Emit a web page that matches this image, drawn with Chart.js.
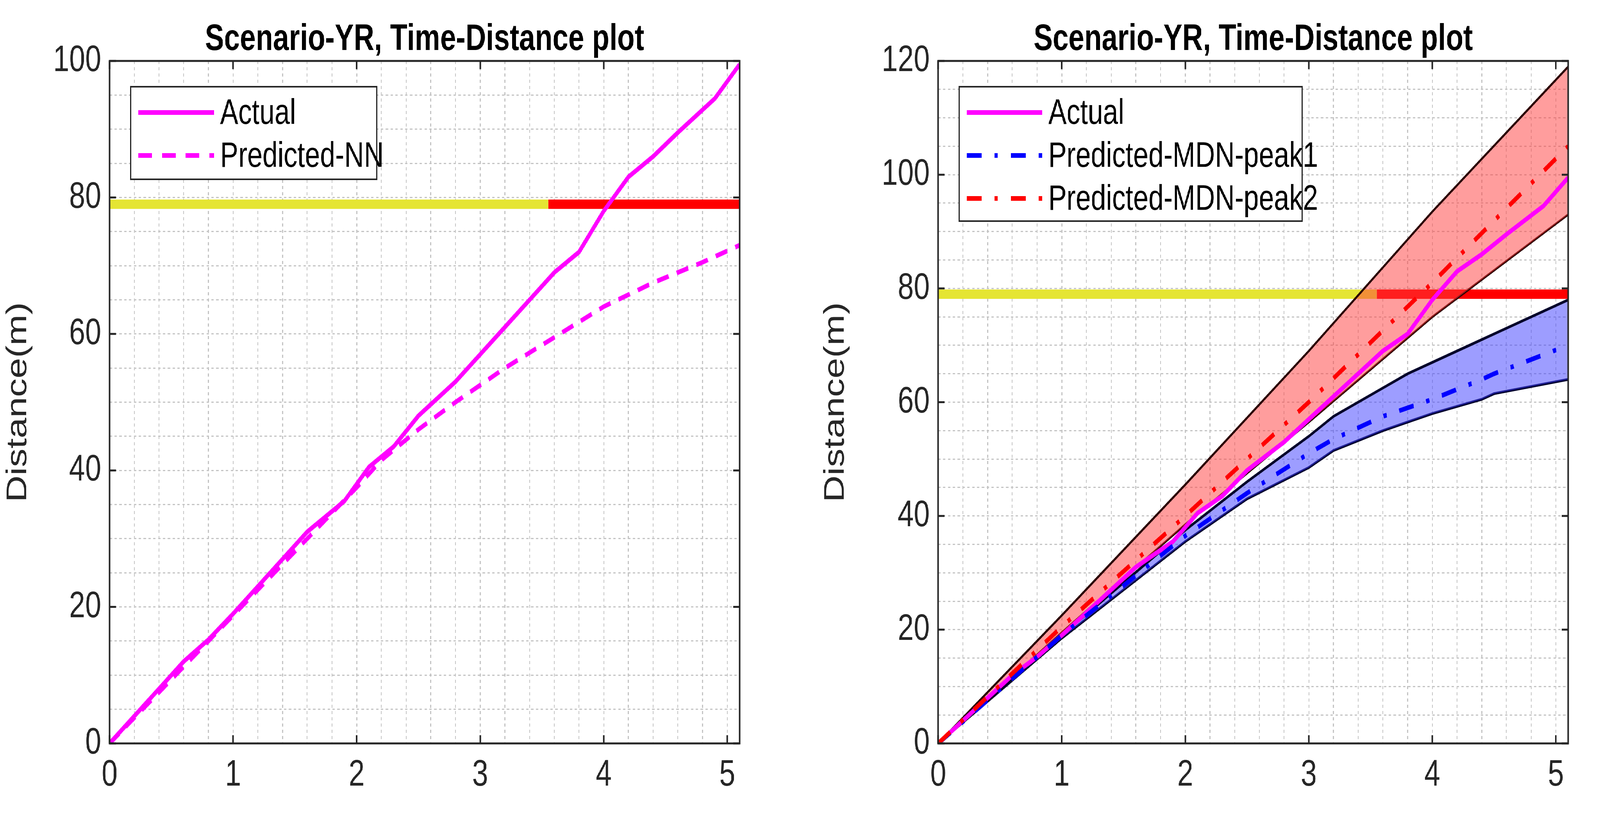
<!DOCTYPE html>
<html>
<head>
<meta charset="utf-8">
<script src="https://cdn.jsdelivr.net/npm/chart.js@4.4.0/dist/chart.umd.min.js"></script>
<style>
	html, body { margin: 0; padding: 0; background: #fff; overflow: hidden; }
	#page { width: 5285px; height: 2140px; position: absolute; left: 0; top: 0; transform-origin: 0 0; }
	.box { position: absolute; top: 0; height: 2140px; }
	canvas { display: block; }
</style>
</head>
<body>
<div id="page">
<div class="box" style="left:0;width:2600px"><canvas id="graphique-gauche"></canvas></div>
<div class="box" style="left:2700px;width:2585px"><canvas id="graphique-droite"></canvas></div>
</div>
<script>
const titre = "Scenario-YR, Time-Distance plot";

// Actual trajectory
const tempsActual = [0, 0.2, 0.4, 0.6, 0.8, 1, 1.2, 1.4, 1.6, 1.9, 2.1, 2.3, 2.5, 2.8, 3.0, 3.2, 3.4, 3.6, 3.8, 4.0, 4.2, 4.4, 4.6, 4.9, 5.1];
const distActual = [0, 4, 8, 12, 15.2, 19, 23, 27, 31, 35.5, 40.5, 43.5, 48, 53, 57, 61, 65, 69, 72, 78, 83, 86, 89.5, 94.5, 99.5];

// Predicted-NN
const tempsNN = [0, 0.4, 0.8, 1.2, 1.6, 2.0, 2.2, 2.5, 2.8, 3.2, 3.6, 4.0, 4.4, 4.8, 5.1];
const distNN = [0, 7.5, 15, 22.5, 30, 37.5, 41.5, 46, 50, 55, 59.5, 64, 67.5, 70.5, 73];

// MDN peak2 (red) with band
const tempsPeak2 = [0, 1, 2, 3, 4, 5.1];
const distPeak2 = [0, 20.5, 40, 60, 81, 105];
const peak2Haut = [0, 22.5, 45.5, 69, 93.5, 119];
const peak2Bas = [0, 19.5, 38.5, 56.5, 75, 93];

// MDN peak1 (blue) with band
const tempsPeak1 = [0, 1, 2, 2.5, 3, 3.2, 3.6, 3.8, 4, 4.4, 4.5, 5.1];
const distPeak1 = [0, 19, 36.5, 44, 51, 53.5, 57.5, 59, 60.5, 64, 65, 70];
const peak1Haut = [0, 19, 37.5, 46, 54, 57.5, 62.5, 65, 67, 71, 72, 78];
const peak1Bas = [0, 18.5, 35.5, 43, 48.5, 51.5, 55, 56.5, 58, 60.5, 61.5, 64];

// Distance bar (conflict zone)
const barreDistance = 79;
const barreJaune = [0, 3.55];
const barreRouge = [3.55, 5.1];

const ticksX = [0, 0.2, 0.4, 0.6, 0.8, 1, 1.2, 1.4, 1.6, 1.8, 2, 2.2, 2.4, 2.6, 2.8, 3, 3.2, 3.4, 3.6, 3.8, 4, 4.2, 4.4, 4.6, 4.8, 5];

const magenta = "#ff00ff";
const gris = "#262626";
const police = "'Liberation Sans', Arial, sans-serif";
const tiretPoint = [49, 43, 11, 43];

// viewport may be narrower than 5285: stretch the page to fill it
const kx = Math.min(window.innerWidth / 5285, 1);
const ky = Math.min(window.innerHeight / 2140, 1);
document.querySelector("#page").style.transform = "scale(" + kx + "," + ky + ")";

function points(xs, ys) {
	return xs.map((x, i) => ({x: x, y: ys[i]}));
}

function ligne(label, xs, ys, couleur, largeur, tirets, ordre, extra) {
	return Object.assign({
		label: label, data: points(xs, ys), borderColor: couleur, borderWidth: largeur,
		borderDash: tirets, pointRadius: 0, tension: 0, fill: false, order: ordre,
	}, extra || {});
}

function barres() {
	return [
		ligne("jaune", barreJaune, [barreDistance, barreDistance], "#e5e533", 24, [], 20, {borderCapStyle: "butt"}),
		ligne("rouge", barreRouge, [barreDistance, barreDistance], "#ff0000", 24, [], 20, {borderCapStyle: "butt"}),
	];
}

function cadrePlugin(legende, legendeBox) {
	return {
		id: "cadre",
		afterDraw(chart) {
			const ctx = chart.ctx;
			const a = chart.chartArea;
			const sx = chart.scales.x, sy = chart.scales.y;
			ctx.save();
			ctx.strokeStyle = gris;
			ctx.lineWidth = 5;
			ctx.beginPath();
			for (let v = 0; v <= 5; v++) {
				const px = sx.getPixelForValue(v);
				ctx.moveTo(px, a.bottom); ctx.lineTo(px, a.bottom - 21);
				ctx.moveTo(px, a.top); ctx.lineTo(px, a.top + 21);
			}
			for (let v = sy.min; v <= sy.max; v += 20) {
				const py = sy.getPixelForValue(v);
				ctx.moveTo(a.left, py); ctx.lineTo(a.left + 21, py);
				ctx.moveTo(a.right, py); ctx.lineTo(a.right - 21, py);
			}
			ctx.stroke();
			ctx.strokeRect(a.left, a.top, a.right - a.left, a.bottom - a.top);
			ctx.fillStyle = "#000";
			ctx.font = "bold 94px " + police;
			ctx.textAlign = "center";
			ctx.textBaseline = "alphabetic";
			ctx.fillText(titre, (a.left + a.right) / 2, a.top - 28);
			const b = legendeBox;
			ctx.fillStyle = "#fff";
			ctx.fillRect(a.left + b.x, a.top + b.y, b.w, b.h);
			ctx.lineWidth = 4;
			ctx.strokeRect(a.left + b.x, a.top + b.y, b.w, b.h);
			ctx.font = "90px " + police;
			ctx.textAlign = "left";
			ctx.textBaseline = "middle";
			legende.forEach((e, i) => {
				const y = a.top + b.y + 66 + i * 110;
				ctx.strokeStyle = e.couleur;
				ctx.lineWidth = 12;
				ctx.setLineDash(e.tirets);
				ctx.beginPath();
				ctx.moveTo(a.left + b.x + 25, y);
				ctx.lineTo(a.left + b.x + 275, y);
				ctx.stroke();
				ctx.setLineDash([]);
				ctx.fillStyle = "#000";
				ctx.fillText(e.texte, a.left + b.x + 295, y + 4);
			});
			ctx.restore();
		},
	};
}

function options(maxY, largeurAxeY, droite) {
	const grille = {color: "#c4c4c4", lineWidth: 3, tickLength: 0, drawTicks: false};
	return {
		responsive: false,
		devicePixelRatio: 1,
		animation: false,
		layout: {padding: {top: 156, right: droite, left: 0, bottom: 0}},
		plugins: {legend: {display: false}, title: {display: false}, tooltip: {enabled: false}},
		scales: {
			x: {
				type: "linear", min: 0, max: 5.1,
				border: {display: false, dash: [8, 8]},
				grid: Object.assign({}, grille),
				afterBuildTicks: s => { s.ticks = ticksX.map(v => ({value: v})); },
				ticks: {
					color: gris, padding: 25, maxRotation: 0, autoSkip: false,
					font: {size: 95, family: police},
					callback: v => Math.abs(v - Math.round(v)) < 1e-6 ? String(Math.round(v)) : "",
				},
				afterFit: s => { s.height = 237; },
			},
			y: {
				type: "linear", min: 0, max: maxY,
				border: {display: false, dash: [8, 8]},
				grid: Object.assign({}, grille),
				ticks: {
					stepSize: 5, color: gris, padding: 28, autoSkip: false,
					font: {size: 95, family: police},
					callback: v => v % 20 === 0 ? String(v) : "",
				},
				title: {display: true, text: "Distance(m)", color: gris, font: {size: 95, family: police}, padding: {bottom: 20}},
				afterFit: s => { s.width = largeurAxeY; },
			},
		},
	};
}

function creerCanvas(id, largeur) {
	const c = document.querySelector(id);
	c.width = largeur; c.height = 2140;
	c.style.width = largeur + "px"; c.style.height = "2140px";
	return c;
}

const gauche = new Chart(creerCanvas("#graphique-gauche", 2600), {
	type: "line",
	data: {datasets: [
		ligne("Actual", tempsActual, distActual, magenta, 12, [], 1),
		ligne("Predicted-NN", tempsNN, distNN, magenta, 12, [40, 28], 2),
		...barres(),
	]},
	options: options(100, 362, 157),
	plugins: [cadrePlugin([
		{texte: "Actual", couleur: magenta, tirets: []},
		{texte: "Predicted-NN", couleur: magenta, tirets: [45, 33]},
	], {x: 70, y: 66, w: 812, h: 237})],
});

const droite = new Chart(creerCanvas("#graphique-droite", 2585), {
	type: "line",
	data: {datasets: [
		ligne("peak2-haut", tempsPeak2, peak2Haut, "#2a0000", 6, [], 6, {fill: "+1", backgroundColor: "rgba(255,60,60,0.5)"}),
		ligne("peak2-bas", tempsPeak2, peak2Bas, "#2a0000", 6, [], 6),
		ligne("peak1-haut", tempsPeak1, peak1Haut, "#00002a", 7, [], 7, {fill: "+1", backgroundColor: "rgba(60,60,255,0.5)"}),
		ligne("peak1-bas", tempsPeak1, peak1Bas, "#00002a", 7, [], 7),
		ligne("Actual", tempsActual, distActual, magenta, 12, [], 3),
		ligne("Predicted-MDN-peak1", tempsPeak1, distPeak1, "#0000ff", 12, tiretPoint, 2),
		ligne("Predicted-MDN-peak2", tempsPeak2, distPeak2, "#ff0000", 12, tiretPoint, 1),
		...barres(),
	]},
	options: options(120, 399, 105),
	plugins: [cadrePlugin([
		{texte: "Actual", couleur: magenta, tirets: []},
		{texte: "Predicted-MDN-peak1", couleur: "#0000ff", tirets: tiretPoint},
		{texte: "Predicted-MDN-peak2", couleur: "#ff0000", tirets: tiretPoint},
	], {x: 69, y: 66, w: 1133, h: 344})],
});
</script>
</body>
</html>
